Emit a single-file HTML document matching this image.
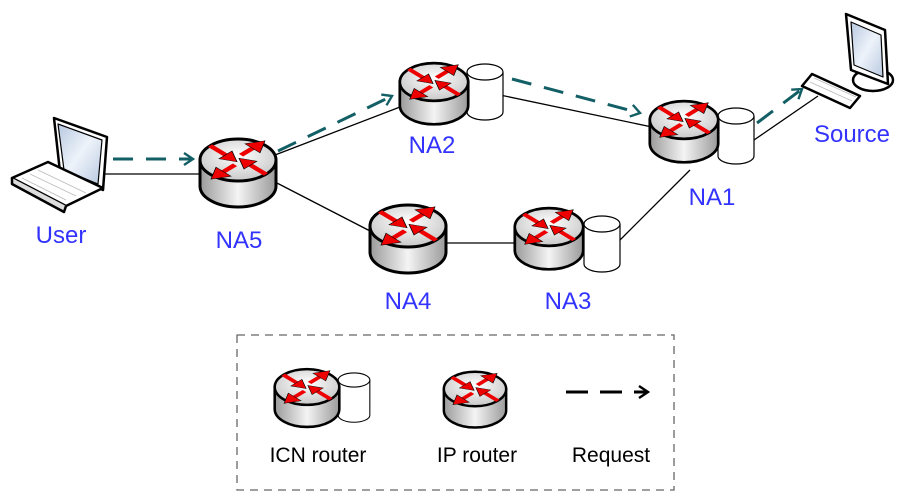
<!DOCTYPE html>
<html><head><meta charset="utf-8"><style>
html,body{margin:0;padding:0;background:#fff}
svg{display:block}
text{font-family:"Liberation Sans",Arial,sans-serif}
</style></head><body>
<svg width="911" height="502" viewBox="0 0 911 502" xmlns="http://www.w3.org/2000/svg">
<defs>
<linearGradient id="body" x1="0" x2="1" y1="0" y2="0">
<stop offset="0" stop-color="#9a9a9a"/><stop offset="0.5" stop-color="#f4f4f4"/><stop offset="1" stop-color="#9a9a9a"/>
</linearGradient>
<radialGradient id="top" cx="0.5" cy="0.4" r="0.6">
<stop offset="0" stop-color="#ffffff"/><stop offset="1" stop-color="#c8c8c8"/>
</radialGradient>
<linearGradient id="scr" x1="0" y1="0" x2="1" y2="1">
<stop offset="0" stop-color="#b8c8e0"/><stop offset="0.5" stop-color="#eef3fa"/><stop offset="1" stop-color="#b8c8e0"/>
</linearGradient>
<g id="arrows">
<g transform="scale(1,0.6)">
<path d="M-28,-24 L-8,-4" stroke="#e00" stroke-width="6"/>
<path d="M-1,3 L-19,-2 L-6,-15 Z" fill="#e00" stroke="#000" stroke-width="0.8"/>
<path d="M28,24 L8,4" stroke="#e00" stroke-width="6"/>
<path d="M1,-3 L19,2 L6,15 Z" fill="#e00" stroke="#000" stroke-width="0.8"/>
<path d="M-3,8 L-16,21" stroke="#e00" stroke-width="6"/>
<path d="M-27,32 L-22,12 L-7,27 Z" fill="#e00" stroke="#000" stroke-width="0.8"/>
<path d="M3,-8 L16,-21" stroke="#e00" stroke-width="6"/>
<path d="M27,-32 L22,-12 L7,-27 Z" fill="#e00" stroke="#000" stroke-width="0.8"/>
</g>
</g>
<g id="router">
<path d="M-38,0 L-38,26 A38,21 0 0 0 38,26 L38,0 Z" fill="url(#body)" stroke="#000" stroke-width="3"/>
<ellipse cx="0" cy="0" rx="38" ry="21" fill="url(#top)" stroke="#000" stroke-width="3"/>
<use href="#arrows"/>
</g>
<g id="cyl">
<path d="M-18,0 L-18,40 A18,8 0 0 0 18,40 L18,0" fill="#fff" stroke="#000" stroke-width="1.2"/>
<ellipse cx="0" cy="0" rx="18" ry="8" fill="#fff" stroke="#000" stroke-width="1.2"/>
</g>
<marker id="ah" markerWidth="14" markerHeight="14" refX="11" refY="7" orient="auto" markerUnits="userSpaceOnUse">
<path d="M2,1 L11,7 L2,13" fill="none" stroke="#135f66" stroke-width="2.4"/>
</marker>
<marker id="ahb" markerWidth="14" markerHeight="14" refX="11" refY="7" orient="auto" markerUnits="userSpaceOnUse">
<path d="M2,1 L11,7 L2,13" fill="none" stroke="#000" stroke-width="2.4"/>
</marker>
</defs>

<g stroke="#000" stroke-width="1.3" fill="none">
<line x1="100" y1="174" x2="202" y2="174"/>
<line x1="275" y1="155" x2="400" y2="107"/>
<line x1="275" y1="182" x2="372" y2="232"/>
<line x1="500" y1="95" x2="652" y2="127"/>
<line x1="446" y1="243" x2="517" y2="243"/>
<line x1="620" y1="240" x2="690" y2="170"/>
<line x1="754" y1="140" x2="818" y2="96"/>
</g>

<g stroke="#135f66" stroke-width="3" fill="none" stroke-dasharray="20,13">
<line x1="113" y1="159" x2="193" y2="159" marker-end="url(#ah)"/>
<line x1="278" y1="151" x2="392" y2="96" marker-end="url(#ah)"/>
<line x1="512" y1="79" x2="640" y2="113" marker-end="url(#ah)"/>
<line x1="757" y1="123" x2="802" y2="89" marker-end="url(#ah)"/>
</g>

<!-- laptop -->
<g stroke="#000" stroke-width="2.5" stroke-linejoin="round">
<path d="M54,118 L107,137 L103,190 L60,172 Z" fill="#fff"/>
<path d="M58,124 L102,140 L98,184 L64,170 Z" fill="url(#scr)" stroke-width="1.2"/>
<path d="M12,178 L48,162 L103,188 L66,206 Z" fill="#fff"/>
<path d="M12,178 L12,184 L64,212 L66,206" fill="#ddd"/>
</g>
<g stroke="#bbb" stroke-width="0.8">
<line x1="22" y1="178" x2="66" y2="200"/><line x1="30" y1="174" x2="76" y2="196"/><line x1="38" y1="170" x2="86" y2="193"/>
</g>

<!-- source PC -->
<g stroke="#000" stroke-width="2.5" stroke-linejoin="round">
<ellipse cx="873" cy="80" rx="20" ry="11" fill="#fff"/>
<path d="M846,14 L885,30 L888,84 L851,70 Z" fill="#fff"/>
<path d="M851,22 L881,35 L883,77 L854,65 Z" fill="url(#scr)" stroke-width="1.2"/>
<path d="M802,86 L812,74 L860,96 L850,108 Z" fill="#fff"/>
</g>
<g stroke="#bbb" stroke-width="0.8">
<line x1="810" y1="82" x2="852" y2="101"/><line x1="814" y1="78" x2="856" y2="97"/>
</g>

<use href="#cyl" x="485" y="72"/>
<use href="#router" x="434" y="82" transform="translate(434,82) scale(0.9) translate(-434,-82)"/>
<use href="#cyl" x="736" y="116"/>
<use href="#router" x="684" y="120" transform="translate(684,120) scale(0.9) translate(-684,-120)"/>
<use href="#router" x="238" y="160"/>
<use href="#router" x="408" y="226"/>
<use href="#cyl" x="602" y="224"/>
<use href="#router" x="549" y="227" transform="translate(549,227) scale(0.9) translate(-549,-227)"/>

<g fill="#3333ff" font-size="24" text-anchor="middle">
<text x="61" y="243">User</text>
<text x="239" y="248">NA5</text>
<text x="432" y="153">NA2</text>
<text x="712" y="205">NA1</text>
<text x="408" y="309">NA4</text>
<text x="568" y="309">NA3</text>
<text x="852" y="142">Source</text>
</g>

<rect x="237" y="335" width="437" height="155" fill="none" stroke="#666" stroke-width="1.3" stroke-dasharray="8,6"/>
<use href="#cyl" x="354" y="380" transform="translate(354,380) scale(0.88) translate(-354,-380)"/>
<use href="#router" x="307" y="387" transform="translate(307,387) scale(0.85) translate(-307,-387)"/>
<use href="#router" x="475" y="389" transform="translate(475,389) scale(0.82) translate(-475,-389)"/>
<line x1="566" y1="392" x2="648" y2="392" stroke="#000" stroke-width="3" stroke-dasharray="22,12" marker-end="url(#ahb)"/>
<g fill="#000" font-size="21" text-anchor="middle">
<text x="318" y="462">ICN router</text>
<text x="477" y="462">IP router</text>
<text x="611" y="462">Request</text>
</g>
</svg>
</body></html>
